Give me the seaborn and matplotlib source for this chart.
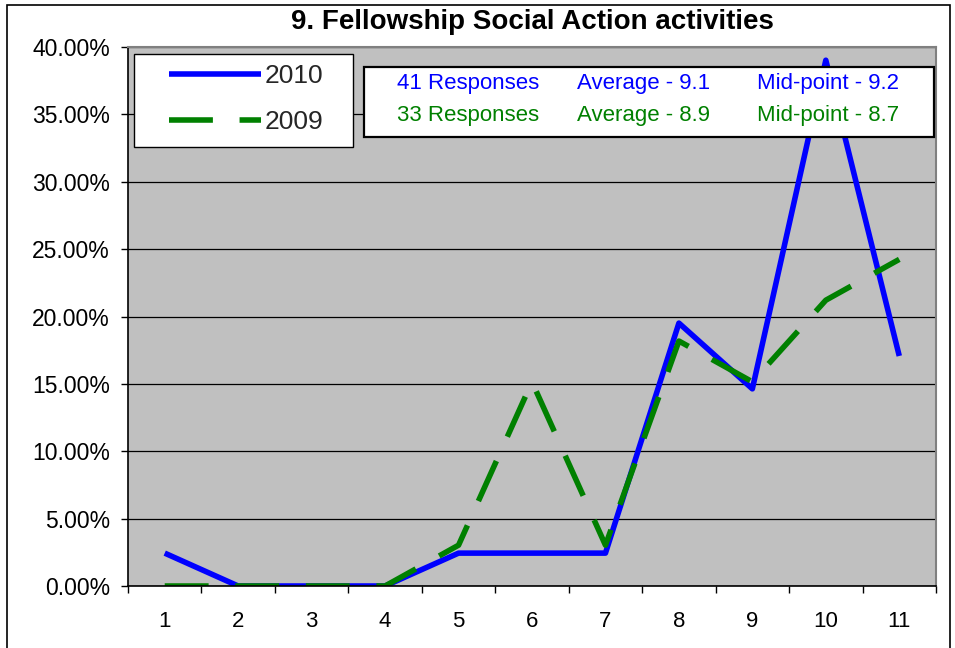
import matplotlib.pyplot as plt
import matplotlib.ticker as mticker
from matplotlib.patches import Rectangle
import pandas as pd
import seaborn as sns

# chart data (percent of responses per score)
categorias = [1, 2, 3, 4, 5, 6, 7, 8, 9, 10, 11]
pct_2010 = [2.44, 0, 0, 0, 2.44, 2.44, 2.44, 19.51, 14.63, 39.02, 17.07]
pct_2009 = [0, 0, 0, 0, 3.03, 15.15, 3.03, 18.18, 15.15, 21.21, 24.24]
anos = ['2010', '2009']

titulo = '9. Fellowship Social Action activities'
linhas_resumo = [
    ['41 Responses', 'Average - 9.1', 'Mid-point - 9.2'],
    ['33 Responses', 'Average - 8.9', 'Mid-point - 8.7'],
]

cor_2010 = '#0000ff'
cor_2009 = '#008000'
cor_fundo = '#c0c0c0'

sns.set_theme(style='white')
plt.rcParams['font.family'] = ['Liberation Sans', 'DejaVu Sans']

df = pd.DataFrame({
    'categoria': categorias * 2,
    'pct': pct_2010 + pct_2009,
    'ano': [anos[0]] * len(categorias) + [anos[1]] * len(categorias),
})

fig = plt.figure(figsize=(9.55, 6.48), dpi=100, facecolor='white')
ax = fig.add_axes([128 / 955, 1 - 586 / 648, 808 / 955, 539 / 648])
ax.set_facecolor(cor_fundo)

sns.lineplot(data=df, x='categoria', y='pct', hue='ano', style='ano',
             palette={'2010': cor_2010, '2009': cor_2009},
             dashes={'2010': '', '2009': (7.9, 4.8)},
             linewidth=4, ax=ax)
for linha in ax.lines:
    linha.set_dash_capstyle('butt')
    linha.set_solid_capstyle('butt')

ax.set_xlim(0.5, 11.5)
ax.set_ylim(0, 40)
ax.yaxis.set_major_locator(mticker.MultipleLocator(5))
ax.yaxis.set_major_formatter(mticker.FuncFormatter(lambda v, p: f'{v:.2f}%'))
ax.set_xticks(categorias)
ax.set_xticks([c - 0.5 for c in categorias] + [11.5], minor=True)
ax.grid(axis='y', color='black', linewidth=0.9)
ax.set_axisbelow(True)
ax.tick_params(axis='x', which='major', length=0, labelsize=16, pad=18, colors='black')
ax.tick_params(axis='x', which='minor', length=5, width=1, direction='out', bottom=True, color='black')
ax.tick_params(axis='y', length=5, width=1, direction='out', left=True, labelsize=16.5, pad=8, colors='black')
ax.set_xlabel('')
ax.set_ylabel('')

for lado in ['left', 'bottom']:
    ax.spines[lado].set_color('black')
    ax.spines[lado].set_linewidth(1.2)
for lado in ['top', 'right']:
    ax.spines[lado].set_color('#808080')
    ax.spines[lado].set_linewidth(1.5)

# legend: frame drawn separately so the padding can match
ax.add_patch(Rectangle(((134 - 128) / 808, (586 - 147) / 539), 219 / 808, 93 / 539,
                       transform=ax.transAxes, facecolor='white', edgecolor='black',
                       linewidth=1.0, zorder=4))
leg = ax.legend(loc='upper left', bbox_to_anchor=((169 - 128) / 808, (586 - 64) / 539),
                fontsize=19, frameon=False, handlelength=3.5, handletextpad=0.12,
                borderpad=0, labelspacing=0.85, borderaxespad=0)
leg.set_zorder(5)
for h in leg.get_lines():
    h.set_linewidth(4)

# summary box
ax.add_patch(Rectangle(((364 - 128) / 808, (586 - 137) / 539), 570 / 808, 70 / 539,
                       transform=ax.transAxes, facecolor='white', edgecolor='black',
                       linewidth=1.6, zorder=5))
col_x = [(397 - 128) / 808, (577 - 128) / 808, (757 - 128) / 808]
row_y = [(586 - 89) / 539, (586 - 121) / 539]
for linha, y, cor in zip(linhas_resumo, row_y, [cor_2010, cor_2009]):
    for texto, x in zip(linha, col_x):
        ax.text(x, y, texto, transform=ax.transAxes, color=cor, fontsize=16,
                va='baseline', ha='left', zorder=6)

fig.text(532 / 955, 1 - 22 / 648, titulo, ha='center', va='center',
         fontsize=20, fontweight='bold', color='black')

fig.add_artist(Rectangle((7 / 955, -0.05), 943 / 955, 1.05 - 5 / 648,
                         transform=fig.transFigure, fill=False,
                         edgecolor='black', linewidth=1.2))

plt.savefig('out.png', dpi=100, facecolor='white')
